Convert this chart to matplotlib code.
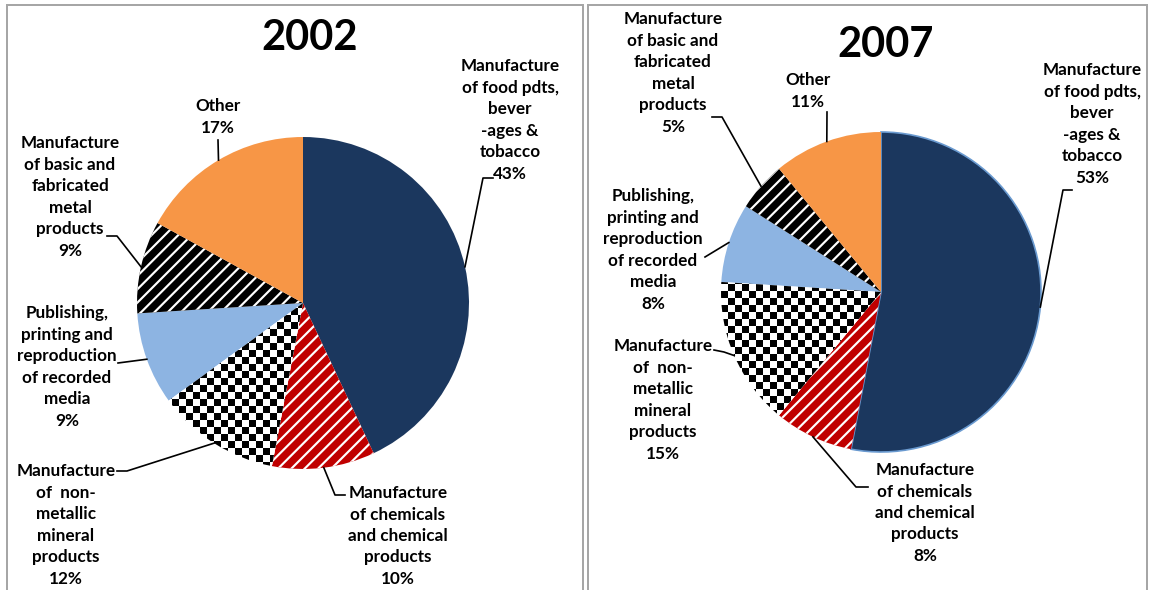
import numpy as np
import matplotlib

matplotlib.use("Agg")
import matplotlib.pyplot as plt
from matplotlib.patches import Rectangle

# data
categories = [
    "Manufacture\nof food pdts,\nbever\n-ages &\ntobacco",
    "Manufacture\nof chemicals\nand chemical\nproducts",
    "Manufacture\nof  non-\nmetallic\nmineral\nproducts",
    "Publishing,\nprinting and\nreproduction\nof recorded\nmedia",
    "Manufacture\nof basic and\nfabricated\nmetal\nproducts",
    "Other",
]
values_2002 = [43, 10, 12, 9, 9, 17]
values_2007 = [53, 8, 15, 8, 5, 11]
years = ["2002", "2007"]

W, H = 1149, 590
plt.rcParams["font.family"] = ["Lato", "DejaVu Sans"]
plt.rcParams["font.weight"] = "bold"
plt.rcParams["hatch.linewidth"] = 1.3

NAVY = "#1B375E"
RED = "#C00000"
BLUE = "#8DB4E2"
ORANGE = "#F79646"

# layout in image pixels (y down)
panels = [
    dict(box=(7, 5, 583, 600), center=(303, 303), r=166, title=(310, 38),
         text=[(510, 120), (398, 536), (66, 525), (67, 367), (70, 197), (218, 117)],
         lead=[[(493, 178), (483, 178)], [(345, 495), (335, 495)],
               [(117, 471), (127, 471)], [(118, 363)], [(107, 236), (117, 236)],
               [(218, 140)]],
         outline=None),
    dict(box=(588, 5, 1147, 600), center=(881, 292), r=160, title=(886, 45),
         text=[(1092, 124), (925, 513), (663, 400), (653, 250), (673, 73), (808, 91)],
         lead=[[(1072, 190), (1063, 190)], [(868, 487), (856, 487)],
               [(714, 350), (724, 352)], [(705, 257)], [(712, 117), (722, 117)],
               [(827, 112)]],
         outline="#6A9AD0"),
]

fig = plt.figure(figsize=(W / 120, H / 120), dpi=120)
ax = fig.add_axes([0, 0, 1, 1])


def flip(p):
    return (p[0], H - p[1])


for year, values, pn in zip(years, [values_2002, values_2007], panels):
    x0, y0, x1, y1 = pn["box"]
    ax.add_patch(Rectangle((x0, H - y1), x1 - x0, y1 - y0, fill=False,
                           edgecolor="#A6A6A6", lw=1.2))
    cx, cy = flip(pn["center"])
    r = pn["r"]
    wedges, _ = ax.pie(values, center=(cx, cy), radius=r, startangle=90,
                       counterclock=False,
                       colors=[NAVY, RED, "white", BLUE, "black", ORANGE],
                       wedgeprops=dict(linewidth=0))
    wedges[1].set_hatch("///")
    wedges[1].set_edgecolor("white")
    wedges[4].set_hatch("///")
    wedges[4].set_edgecolor("white")
    if pn["outline"]:
        wedges[0].set_edgecolor(pn["outline"])
        wedges[0].set_linewidth(1.0)

    # checkerboard fill for the non-metallic slice
    cell = 7
    n = int(2 * r / cell) + 2
    checker = (np.indices((n, n)).sum(axis=0) % 2).astype(float)
    im = ax.imshow(checker, cmap="gray", interpolation="nearest",
                   extent=(cx - r, cx - r + n * cell, cy - r, cy - r + n * cell),
                   zorder=2)
    im.set_clip_path(wedges[2])

    ax.text(*flip(pn["title"]), year, ha="center", va="center",
            fontsize=25, fontweight="bold")

    for i, (w, name, v) in enumerate(zip(wedges, categories, values)):
        ang = np.deg2rad((w.theta1 + w.theta2) / 2)
        arc = (cx + r * np.cos(ang), cy + r * np.sin(ang))
        pts = [flip(p) for p in pn["lead"][i]] + [arc]
        xs, ys = zip(*pts)
        ax.plot(xs, ys, color="black", lw=1.0, zorder=4)
        ax.text(*flip(pn["text"][i]), f"{name}\n{v}%", ha="center",
                va="center", fontsize=10.3, fontweight="bold", linespacing=1.42,
                zorder=5)

ax.set_xlim(0, W)
ax.set_ylim(0, H)
ax.set_aspect("equal")
ax.axis("off")
fig.savefig("out.png", dpi=120)
